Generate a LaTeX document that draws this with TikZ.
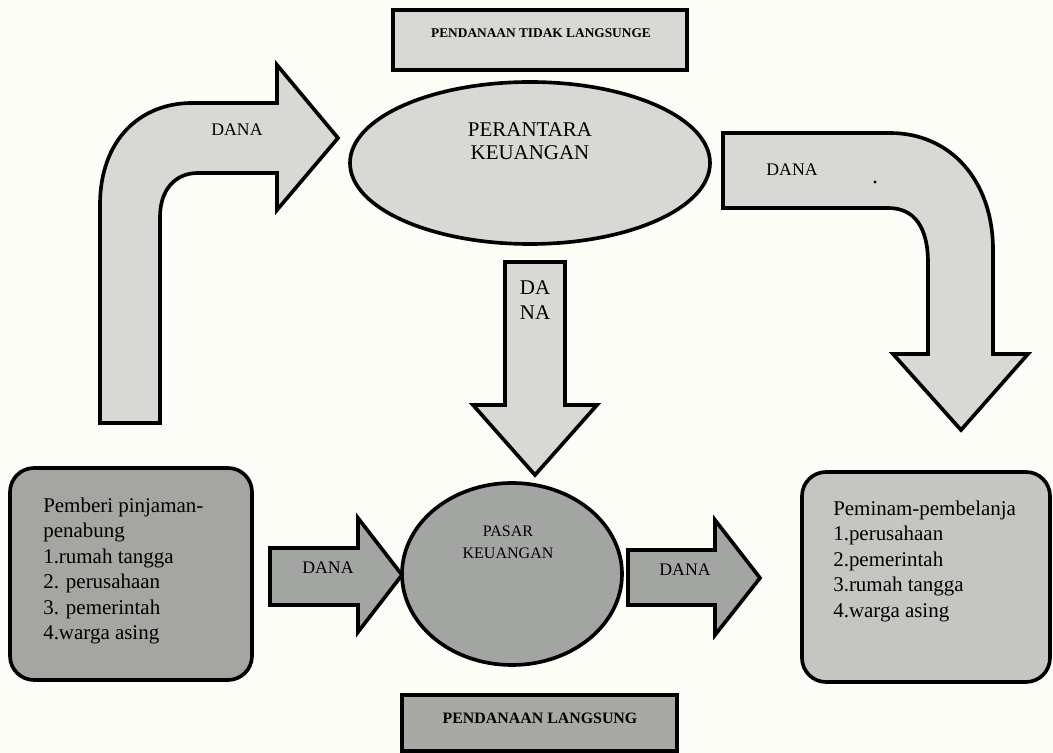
\documentclass[tikz,border=0pt]{standalone}
\usepackage{fontspec}
\setmainfont{Liberation Serif}
\definecolor{paper}{RGB}{253,253,248}
\definecolor{lightfill}{RGB}{216,216,212}
\definecolor{midfill}{RGB}{163,165,163}
\definecolor{lenderfill}{RGB}{165,165,162}
\definecolor{borrowerfill}{RGB}{197,197,193}
\definecolor{directfill}{RGB}{168,168,165}
\tikzset{
  blk/.style={draw=black, line width=2.6pt, line join=miter},
  dana/.style={font=\fontsize{12.6}{15}\selectfont, inner sep=0pt},
  bigtxt/.style={font=\fontsize{14.9}{18.1}\selectfont, align=left, inner sep=0pt},
  headtxt/.style={font=\bfseries, inner sep=0pt}
}
\begin{document}
\begin{tikzpicture}[x={(0.025cm,0)}, y={(0,-0.025cm)}]
\useasboundingbox (0,0) rectangle (1053,753);
\fill[paper] (0,0) rectangle (1053,753);

\begin{scope}
\draw[blk, fill=lightfill] (393,10) rectangle (687,70);
\node[headtxt, font=\fontsize{9.5}{11}\selectfont\bfseries] (indirect) at (541,33) {PENDANAAN TIDAK LANGSUNGE};

\draw[blk, fill=lightfill] (530,163) ellipse [x radius=180, y radius=81];
\node[font=\fontsize{14.9}{16.4}\selectfont, align=center, inner sep=0pt] (perantara) at (530,141.5) {PERANTARA\\KEUANGAN};

\draw[blk, fill=lightfill] (100,423) -- (100,205)
  .. controls (100,140) and (140,103) .. (192,103) -- (277,103) -- (277,65)
  -- (338,138) -- (277,210) -- (277,173) -- (198,173)
  .. controls (175,173) and (160,190) .. (160,217) -- (160,423) -- cycle;
\node[dana] (danaA) at (237,130) {DANA};

\draw[blk, fill=lightfill] (723,133) -- (890,133)
  .. controls (950,133) and (993,180) .. (993,250) -- (993,354) -- (1028,354)
  -- (961,430) -- (893,354) -- (928,354) -- (928,263)
  .. controls (928,228) and (915,208) .. (888,208) -- (723,208) -- cycle;
\node[dana] (danaB) at (792,170) {DANA};
\fill (875,182) circle (1.6);

\draw[blk, fill=lightfill] (505,262) -- (565,262) -- (565,405) -- (597,405)
  -- (535,475) -- (473,405) -- (505,405) -- cycle;
\node[font=\fontsize{14.9}{17.8}\selectfont, align=center, inner sep=0pt] (danaC) at (535,300) {DA\\NA};
\end{scope}

\begin{scope}
\draw[blk, fill=lenderfill, rounded corners=0.6cm] (10,468) rectangle (252,680);
\node[bigtxt, anchor=north west] (lender) at (43,497.5) {Pemberi pinjaman-\\penabung\\1.rumah tangga\\2. perusahaan\\3. pemerintah\\4.warga asing};

\draw[blk, fill=midfill] (270,548) -- (358,548) -- (358,518) -- (402,575)
  -- (358,632) -- (358,605) -- (270,605) -- cycle;
\node[dana] (danaD) at (328,568) {DANA};

\draw[blk, fill=midfill] (512,574) ellipse [x radius=110, y radius=91];
\node[font=\fontsize{11.4}{15.6}\selectfont, align=center, inner sep=0pt] (pasar) at (508,542) {PASAR\\KEUANGAN};

\draw[blk, fill=midfill] (628,550) -- (715,550) -- (715,520) -- (760,578)
  -- (715,635) -- (715,605) -- (628,605) -- cycle;
\node[dana] (danaE) at (685,570) {DANA};

\draw[blk, fill=borrowerfill, rounded corners=0.6cm] (802,472) rectangle (1050,682);
\node[bigtxt, anchor=north west] (borrower) at (833,500.5) {Peminam-pembelanja\\1.perusahaan\\2.pemerintah\\3.rumah tangga\\4.warga asing};

\draw[blk, fill=directfill] (402,695) rectangle (677,751);
\node[headtxt, font=\fontsize{11.3}{13}\selectfont\bfseries] (direct) at (540,718) {PENDANAAN LANGSUNG};
\end{scope}
\end{tikzpicture}
\end{document}
